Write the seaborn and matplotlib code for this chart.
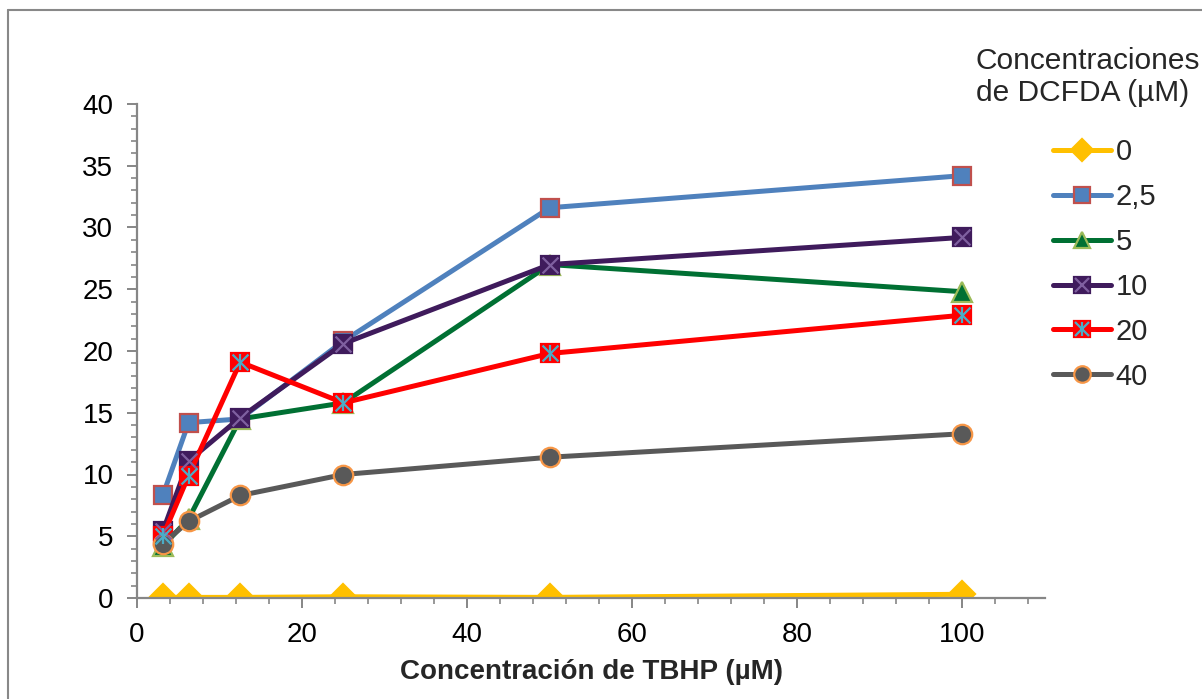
import matplotlib
matplotlib.use("Agg")
import matplotlib.pyplot as plt
from matplotlib.lines import Line2D
from matplotlib.ticker import MultipleLocator
from matplotlib.legend_handler import HandlerTuple
import seaborn as sns

# TBHP concentrations (µM) and signal for each DCFDA concentration
tbhp = [3.125, 6.25, 12.5, 25, 50, 100]
dcfda_labels = ["0", "2,5", "5", "10", "20", "40"]
dcfda_0 = [0.05, 0.05, 0.05, 0.1, 0.05, 0.3]
dcfda_2_5 = [8.3, 14.2, 14.5, 20.8, 31.6, 34.2]
dcfda_5 = [4.2, 6.4, 14.5, 15.8, 27.0, 24.8]
dcfda_10 = [5.4, 11.1, 14.6, 20.6, 27.0, 29.2]
dcfda_20 = [5.0, 9.9, 19.1, 15.8, 19.8, 22.9]
dcfda_40 = [4.4, 6.2, 8.3, 10.0, 11.4, 13.3]
series = [dcfda_0, dcfda_2_5, dcfda_5, dcfda_10, dcfda_20, dcfda_40]

sns.set_theme(style="white")
plt.rcParams["font.family"] = ["Liberation Sans", "DejaVu Sans"]

# per-series styling: line colour, marker, marker size, face, edge, overlay glyphs
styles = [
    dict(color="#FFC000", marker="D", ms=13, mfc="#FFC000", mec="#FFC000", over=[]),
    dict(color="#4F81BD", marker="s", ms=13, mfc="#4F81BD", mec="#C0504D", over=[]),
    dict(color="#007033", marker="^", ms=14, mfc="#007033", mec="#9BBB59", over=[]),
    dict(color="#3F1B5C", marker="s", ms=13, mfc="#3F1B5C", mec="#3F1B5C",
         over=[("x", "#7F60A0")]),
    dict(color="#FF0000", marker="s", ms=13, mfc="#FF0000", mec="#FF0000",
         over=[("x", "#4BACC6"), ("|", "#4BACC6")]),
    dict(color="#595959", marker="o", ms=14, mfc="#595959", mec="#F79646", over=[]),
]

fig = plt.figure(figsize=(12.02, 6.99), dpi=100)
ax = fig.add_axes([137 / 1202, 1 - 598 / 699, (1045 - 137) / 1202, (598 - 104) / 699])

handles = []
for vals, lab, st in zip(series, dcfda_labels, styles):
    sns.lineplot(x=tbhp, y=vals, ax=ax, color=st["color"], linewidth=3.6,
                 marker=st["marker"], markersize=st["ms"],
                 markerfacecolor=st["mfc"], markeredgecolor=st["mec"],
                 markeredgewidth=1.6, legend=False)
    hs = [Line2D([], [], color=st["color"], linewidth=3.6, marker=st["marker"],
                 markersize=st["ms"] * 0.85, markerfacecolor=st["mfc"],
                 markeredgecolor=st["mec"], markeredgewidth=1.6)]
    for glyph, gcol in st["over"]:
        sns.scatterplot(x=tbhp, y=vals, ax=ax, marker=glyph, s=130,
                        color=gcol, linewidth=1.6, zorder=3, legend=False)
        hs.append(Line2D([], [], linestyle="none", marker=glyph,
                         markersize=10, color=gcol, markeredgewidth=1.6))
    handles.append(tuple(hs))

ax.set_xlim(0, 110)
ax.set_ylim(0, 40)
ax.xaxis.set_major_locator(MultipleLocator(20))
ax.xaxis.set_minor_locator(MultipleLocator(4))
ax.yaxis.set_major_locator(MultipleLocator(5))
ax.yaxis.set_minor_locator(MultipleLocator(1))
ax.set_xticks([0, 20, 40, 60, 80, 100])

for s in ["top", "right"]:
    ax.spines[s].set_visible(False)
for s in ["left", "bottom"]:
    ax.spines[s].set_color("#868686")
    ax.spines[s].set_linewidth(1.6)

ax.tick_params(axis="both", which="major", direction="out", length=7, width=1.4,
               color="#868686", labelsize=20, labelcolor="black", pad=10,
               left=True, bottom=True)
ax.tick_params(axis="both", which="minor", direction="out", length=4, width=1.2,
               color="#868686", left=True, bottom=True)

ax.set_xlabel("Concentración de TBHP (µM)", fontsize=20, fontweight="bold",
              labelpad=8)
ax.set_ylabel("")

fig.text(976 / 1202, 1 - 47 / 699, "Concentraciones\nde DCFDA (µM)",
         fontsize=21.5, ha="left", va="top", linespacing=1.2)

leg = ax.legend(handles, dcfda_labels, handler_map={tuple: HandlerTuple(ndivide=1)},
                loc="upper left", bbox_to_anchor=(1053 / 1202, 1 - 138 / 699),
                bbox_transform=fig.transFigure, frameon=False, fontsize=21,
                handlelength=2.0, handletextpad=0.15, labelspacing=0.58,
                borderpad=0, borderaxespad=0)

# chart-area frame
fig.add_artist(Line2D([8 / 1202, 8 / 1202], [0, 1 - 10 / 699], color="#888888",
                      linewidth=1.5, transform=fig.transFigure))
fig.add_artist(Line2D([8 / 1202, 1], [1 - 10 / 699, 1 - 10 / 699], color="#888888",
                      linewidth=1.5, transform=fig.transFigure))

fig.savefig("out.png", dpi=100, facecolor="white")
